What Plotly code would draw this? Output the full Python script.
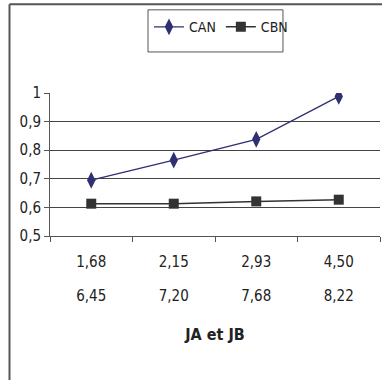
import plotly.graph_objects as go

categories = ["1,68", "2,15", "2,93", "4,50"]
second_row = ["6,45", "7,20", "7,68", "8,22"]
can_values = [0.695, 0.765, 0.838, 0.988]
cbn_values = [0.613, 0.613, 0.621, 0.627]
y_ticks = [0.5, 0.6, 0.7, 0.8, 0.9, 1.0]
y_ticklabels = ["0,5", "0,6", "0,7", "0,8", "0,9", "1"]

FONT = "DejaVu Sans Condensed, Liberation Sans Narrow, Arial, sans-serif"

fig = go.Figure()
fig.add_trace(go.Scatter(
    x=categories, y=can_values, name="CAN", mode="lines+markers",
    line=dict(color="#2f2f72", width=1.3),
    marker=dict(symbol="diamond-tall", size=12, color="#2f2f72"),
))
fig.add_trace(go.Scatter(
    x=categories, y=cbn_values, name="CBN", mode="lines+markers",
    line=dict(color="#333333", width=1.5),
    marker=dict(symbol="square", size=10, color="#333333"),
))
# invisible carrier so the second label row has a category axis to live on
fig.add_trace(go.Scatter(
    x=second_row, y=cbn_values, xaxis="x2", mode="markers",
    marker=dict(opacity=0), showlegend=False, hoverinfo="skip",
))

fig.update_layout(
    width=382, height=380,
    margin=dict(l=50, r=2, t=93, b=144),
    paper_bgcolor="white", plot_bgcolor="white",
    font=dict(family=FONT, size=14, color="#222222"),
    showlegend=True,
    legend=dict(
        orientation="h", x=0.3, y=1.46, xanchor="left", yanchor="middle",
        bgcolor="rgba(0,0,0,0)", borderwidth=0,
        font=dict(size=14), itemwidth=30, tracegroupgap=0,
    ),
    xaxis=dict(
        type="category", range=[-0.5, 3.5],
        showline=True, linecolor="#555555", linewidth=1,
        ticks="outside", tickson="boundaries", ticklen=5, tickcolor="#555555",
        showgrid=False, tickfont=dict(size=15), ticklabelstandoff=12,
        title=dict(text="<b>JA et JB</b>", font=dict(size=16), standoff=58),
    ),
    xaxis2=dict(
        type="category", overlaying="x", anchor="y", side="bottom",
        range=[-0.5, 3.5],
        showline=False, showgrid=False, zeroline=False, ticks="",
        tickfont=dict(size=15), ticklabelstandoff=49,
    ),
    yaxis=dict(
        range=[0.5, 1.0], tickvals=y_ticks, ticktext=y_ticklabels,
        showline=True, linecolor="#555555", linewidth=1,
        ticks="outside", ticklen=5, tickcolor="#555555",
        showgrid=True, gridcolor="#444444", gridwidth=1,
        zeroline=False, tickfont=dict(size=15),
    ),
    shapes=[
        # outer chart frame: left and top edges
        dict(type="line", xref="paper", yref="paper",
             x0=-0.1227, x1=-0.1227, y0=-1.05, y1=1.62,
             line=dict(color="#555555", width=2)),
        dict(type="line", xref="paper", yref="paper",
             x0=-0.1227, x1=1.02, y0=1.62, y1=1.62,
             line=dict(color="#555555", width=2)),
        # legend box
        dict(type="rect", xref="paper", yref="paper",
             x0=0.297, x1=0.706, y0=1.287, y1=1.5816,
             line=dict(color="#555555", width=1), fillcolor="rgba(0,0,0,0)"),
    ],
)

fig.write_html("out.html")
